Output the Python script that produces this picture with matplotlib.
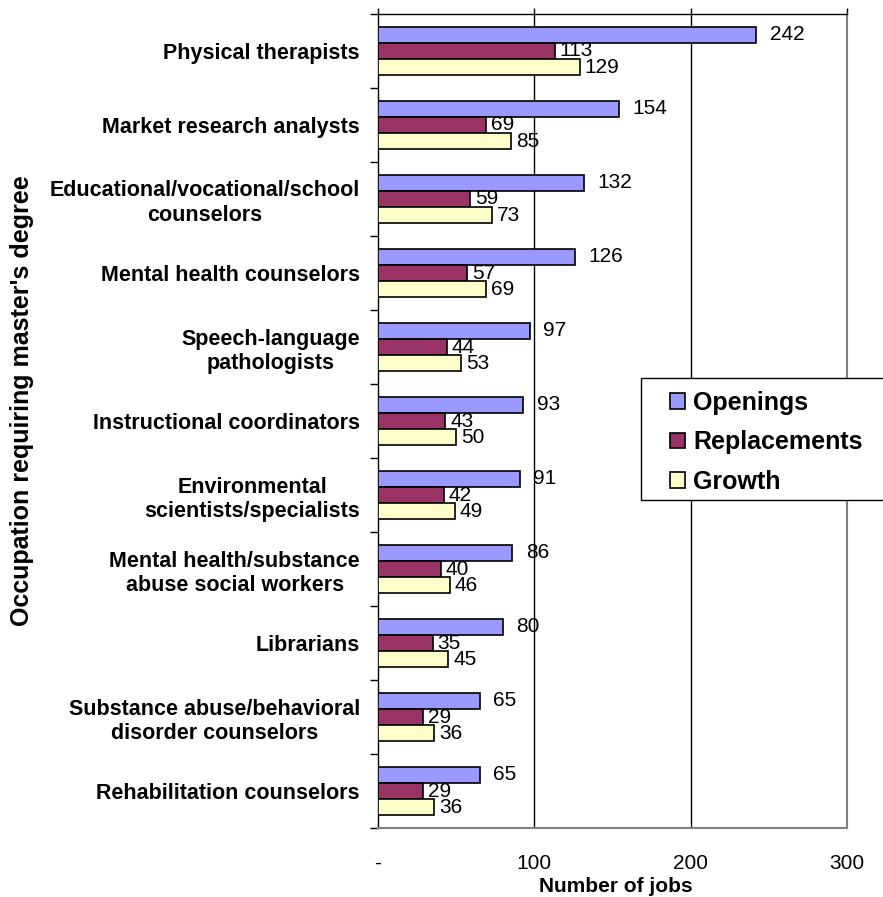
import matplotlib
matplotlib.use("Agg")
import matplotlib.pyplot as plt
from matplotlib.patches import Rectangle, Patch
import numpy as np

plt.rcParams['font.family'] = ['Liberation Sans', 'DejaVu Sans']

categories = [
    "Physical therapists",
    "Market research analysts",
    "Educational/vocational/school\ncounselors",
    "Mental health counselors",
    "Speech-language\npathologists",
    "Instructional coordinators",
    "Environmental\nscientists/specialists",
    "Mental health/substance\nabuse social workers",
    "Librarians",
    "Substance abuse/behavioral\ndisorder counselors",
    "Rehabilitation counselors",
]
openings = [242, 154, 132, 126, 97, 93, 91, 86, 80, 65, 65]
replacements = [113, 69, 59, 57, 44, 43, 42, 40, 35, 29, 29]
growth = [129, 85, 73, 69, 53, 50, 49, 46, 45, 36, 36]
series_names = ["Openings", "Replacements", "Growth"]
colors = ["#9999FF", "#993366", "#FFFFCC"]
xticks = [0, 100, 200, 300]
xtick_labels = ["-", "100", "200", "300"]

W, H = 883, 897
fig = plt.figure(figsize=(W / 100, H / 100), dpi=100)
ax = fig.add_axes([378 / W, 1 - 828 / H, (847 - 378) / W, (828 - 14) / H])

y = np.arange(len(categories))
h = 0.22
offsets = [-h, 0, h]
label_pads = [9.5, 3.5, 3.5]
for vals, off, col, name, pad in zip([openings, replacements, growth], offsets, colors, series_names, label_pads):
    ax.barh(y + off, vals, height=h, color=col, edgecolor="black", linewidth=1.2, zorder=3, label=name)
    for yi, v in zip(y + off, vals):
        ax.annotate(str(v), (v, yi), xytext=(pad, 0), textcoords="offset points",
                    va="center", ha="left", fontsize=15, zorder=4)

ax.set_xlim(0, 300)
ax.set_ylim(len(categories) - 0.5, -0.5)

# x axis: ticks on top, labels at bottom
ax.set_xticks(xticks)
ax.set_xticklabels(xtick_labels, fontsize=15)
ax.tick_params(axis="x", which="major", top=True, bottom=False, labeltop=False, labelbottom=True,
               direction="out", length=4.5, width=1, pad=14)
for v in [100, 200]:
    ax.axvline(v, color="black", linewidth=1, zorder=1)

# y axis: major ticks at boundaries, labels at minor (centers)
ax.set_yticks(np.arange(-0.5, len(categories), 1.0))
ax.set_yticklabels([])
ax.tick_params(axis="y", which="major", direction="out", length=6, width=1)
ax.set_yticks(y, minor=True)
ax.set_yticklabels(categories, minor=True, fontsize=15.5, fontweight="bold")
ax.tick_params(axis="y", which="minor", length=0, pad=13)
for t in ax.get_yticklabels(minor=True):
    t.set_multialignment("center")

for s in ["left", "top"]:
    ax.spines[s].set_color("black")
    ax.spines[s].set_linewidth(1)
for s in ["right", "bottom"]:
    ax.spines[s].set_color("#808080")
    ax.spines[s].set_linewidth(1.5)

fig.text(616 / W, 1 - 886 / H, "Number of jobs", ha="center", va="center", fontsize=15, fontweight="bold")
fig.text(22 / W, 1 - 401 / H, "Occupation requiring master's degree", ha="center", va="center",
         rotation=90, fontsize=18, fontweight="bold")

# legend
frame = Rectangle((641 / W, 1 - 500 / H), 260 / W, 122 / H, transform=fig.transFigure,
                  facecolor="white", edgecolor="black", linewidth=1, zorder=5)
fig.patches.append(frame)
handles = [Patch(facecolor=c, edgecolor="black", linewidth=1.2) for c in colors]
leg = fig.legend(handles, series_names, loc="upper left", bbox_to_anchor=(652 / W, 1 - 373 / H),
                 frameon=False, prop={"size": 18, "weight": "bold"}, handlelength=0.6, handleheight=0.6,
                 handletextpad=0.35, labelspacing=0.63, borderpad=0.2)
leg.set_zorder(6)

fig.savefig("out.png", dpi=100)
